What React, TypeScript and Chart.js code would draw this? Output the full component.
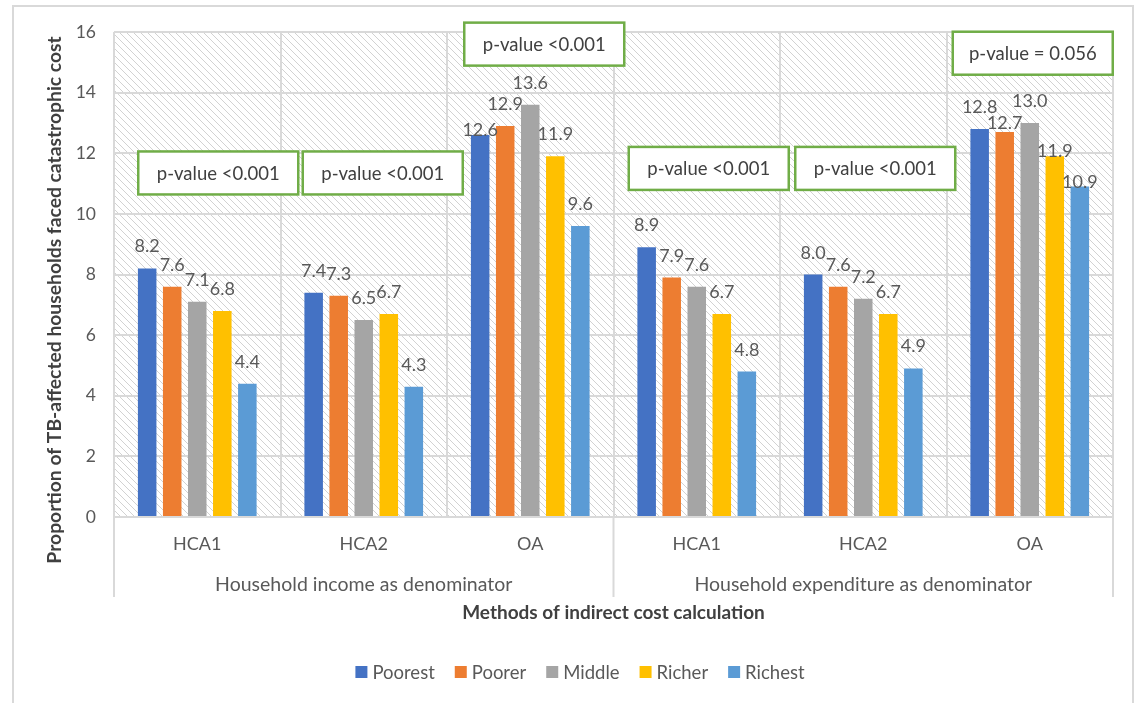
import React, { useEffect, useRef } from 'react';
import { Chart, registerables } from 'chart.js';

Chart.register(...registerables);

// Methods of indirect cost calculation, grouped by denominator
const methods = ['HCA1', 'HCA2', 'OA', 'HCA1', 'HCA2', 'OA'];
const denominators = ['Household income as denominator', 'Household expenditure as denominator'];
const quintiles = ['Poorest', 'Poorer', 'Middle', 'Richer', 'Richest'];

// Proportion (%) of TB-affected households facing catastrophic cost
const poorest = [8.2, 7.4, 12.6, 8.9, 8.0, 12.8];
const poorer = [7.6, 7.3, 12.9, 7.9, 7.6, 12.7];
const middle = [7.1, 6.5, 13.6, 7.6, 7.2, 13.0];
const richer = [6.8, 6.7, 11.9, 6.7, 6.7, 11.9];
const richest = [4.4, 4.3, 9.6, 4.8, 4.9, 10.9];

const pValueText = ['p-value <0.001', 'p-value <0.001', 'p-value <0.001', 'p-value <0.001', 'p-value <0.001', 'p-value = 0.056'];

const Y_MIN = 0;
const Y_MAX = 16;
const Y_STEP = 2;

// styling
const colors = ['#4472C4', '#ED7D31', '#A5A5A5', '#FFC000', '#5B9BD5'];
const FONT = 'Lato, "Open Sans", sans-serif';
const TEXT = '#595959';
const GRID = '#d9d9d9';

// p-value callouts: vertical centre in axis units, horizontal shift from category centre in px
const pBoxLevel = [11.35, 11.35, 15.6, 11.5, 11.5, 15.3];
const pBoxShift = [21, 19, 14, 12, 12, 3];
const P_BOX_W = 160;
const P_BOX_H = 43;

// value labels that sit lower than the default position (px), keyed "category-series"
const labelDrop: Record<string, number> = { '2-0': 17, '5-1': 13, '5-3': 17, '5-4': 17 };

const series = [poorest, poorer, middle, richer, richest];

const decorPlugin = {
  id: 'decor',
  beforeDraw(chart: any) {
    const { ctx, chartArea: a } = chart;
    ctx.save();
    ctx.fillStyle = '#ffffff';
    ctx.fillRect(0, 0, chart.width, chart.height);
    // outer frame
    ctx.strokeStyle = GRID;
    ctx.lineWidth = 2;
    ctx.strokeRect(13, 6, 1120, 730);
    // diagonal hatch in the plot area
    ctx.beginPath();
    ctx.rect(a.left, a.top, a.right - a.left, a.bottom - a.top);
    ctx.clip();
    ctx.strokeStyle = '#d2d2d2';
    ctx.lineWidth = 1;
    const h = a.bottom - a.top;
    ctx.beginPath();
    for (let x = a.left - h; x < a.right + 10; x += 7) {
      ctx.moveTo(x, a.top);
      ctx.lineTo(x + h, a.bottom);
    }
    ctx.stroke();
    ctx.restore();
  },
  afterDatasetsDraw(chart: any) {
    const { ctx } = chart;
    const xs = chart.scales.x;
    const ys = chart.scales.y;
    ctx.save();
    // value labels
    ctx.font = `18px ${FONT}`;
    ctx.fillStyle = TEXT;
    ctx.textAlign = 'center';
    ctx.textBaseline = 'alphabetic';
    chart.data.datasets.forEach((ds: any, di: number) => {
      const meta = chart.getDatasetMeta(di);
      meta.data.forEach((bar: any, i: number) => {
        const drop = labelDrop[`${i}-${di}`] || 0;
        ctx.fillText(ds.data[i].toFixed(1), bar.x, bar.y - 16 + drop);
      });
    });
    // p-value callouts
    pValueText.forEach((t, i) => {
      const cx = xs.getPixelForValue(i) + pBoxShift[i];
      const cy = ys.getPixelForValue(pBoxLevel[i]);
      const x0 = cx - P_BOX_W / 2;
      const y0 = cy - P_BOX_H / 2;
      ctx.fillStyle = '#ffffff';
      ctx.fillRect(x0, y0, P_BOX_W, P_BOX_H);
      ctx.strokeStyle = '#70AD47';
      ctx.lineWidth = 2.5;
      ctx.strokeRect(x0, y0, P_BOX_W, P_BOX_H);
      ctx.fillStyle = '#404040';
      ctx.font = `18.5px ${FONT}`;
      ctx.textBaseline = 'middle';
      ctx.fillText(t, cx, cy + 1);
    });
    ctx.restore();
  },
  afterDraw(chart: any) {
    const { ctx, chartArea: a } = chart;
    const xs = chart.scales.x;
    ctx.save();
    // multi-level category axis
    const mid = (xs.getPixelForValue(2) + xs.getPixelForValue(3)) / 2;
    ctx.strokeStyle = GRID;
    ctx.lineWidth = 2;
    ctx.beginPath();
    [a.left, mid, a.right].forEach((x) => {
      ctx.moveTo(x, a.bottom);
      ctx.lineTo(x, a.bottom + 80);
    });
    ctx.stroke();

    ctx.fillStyle = TEXT;
    ctx.textAlign = 'center';
    ctx.textBaseline = 'middle';
    ctx.font = `18px ${FONT}`;
    methods.forEach((m, i) => ctx.fillText(m, xs.getPixelForValue(i), a.bottom + 27));
    ctx.font = `19.5px ${FONT}`;
    ctx.fillText(denominators[0], (a.left + mid) / 2, a.bottom + 68);
    ctx.fillText(denominators[1], (mid + a.right) / 2, a.bottom + 68);

    // axis titles
    ctx.fillStyle = '#404040';
    ctx.font = `bold 19px ${FONT}`;
    ctx.fillText('Methods of indirect cost calculation', (a.left + a.right) / 2, 613);
    ctx.save();
    ctx.translate(55, 300);
    ctx.rotate(-Math.PI / 2);
    ctx.font = `bold 19.3px ${FONT}`;
    ctx.fillText('Proportion of TB-affected households faced catastrophic cost', 0, 0);
    ctx.restore();

    // legend
    ctx.font = `18.5px ${FONT}`;
    ctx.textAlign = 'left';
    const box = 12;
    const gapBox = 5;
    const gapItem = 20;
    const widths = quintiles.map((q) => box + gapBox + ctx.measureText(q).width);
    const total = widths.reduce((s, w) => s + w, 0) + gapItem * (quintiles.length - 1);
    let x = 580 - total / 2;
    const ly = 672;
    quintiles.forEach((q, i) => {
      ctx.fillStyle = colors[i];
      ctx.fillRect(x, ly - box / 2, box, box);
      ctx.fillStyle = TEXT;
      ctx.fillText(q, x + box + gapBox, ly + 1);
      x += widths[i] + gapItem;
    });
    ctx.restore();
  },
};

export default function App() {
  const canvasRef = useRef<HTMLCanvasElement | null>(null);

  useEffect(() => {
    const canvas = canvasRef.current;
    if (!canvas) return;
    const chart = new Chart(canvas, {
      type: 'bar',
      data: {
        labels: methods,
        datasets: quintiles.map((q, i) => ({
          label: q,
          data: series[i],
          backgroundColor: colors[i],
          borderWidth: 0,
          barPercentage: 0.74,
          categoryPercentage: 0.752,
        })),
      },
      options: {
        responsive: false,
        animation: false,
        devicePixelRatio: 1,
        layout: { padding: { top: 32, right: 27, left: 0, bottom: 0 } },
        plugins: {
          legend: { display: false },
          title: { display: false },
          tooltip: { enabled: false },
        },
        scales: {
          x: {
            offset: true,
            grid: { offset: true, color: GRID, lineWidth: 2, drawTicks: false },
            border: { display: false },
            ticks: { display: false },
            afterFit: (s: any) => {
              s.height = 186;
            },
          },
          y: {
            min: Y_MIN,
            max: Y_MAX,
            ticks: {
              stepSize: Y_STEP,
              color: TEXT,
              font: { family: FONT, size: 17.5 },
              padding: 18,
            },
            grid: { color: GRID, lineWidth: 2, drawTicks: false },
            border: { display: false },
            afterFit: (s: any) => {
              s.width = 114;
            },
          },
        },
      },
      plugins: [decorPlugin],
    });
    return () => chart.destroy();
  }, []);

  return (
    <div style={{ position: 'absolute', left: 0, top: 0, width: 1140, height: 703, background: '#fff' }}>
      <canvas ref={canvasRef} width={1140} height={703} style={{ display: 'block' }} />
    </div>
  );
}
